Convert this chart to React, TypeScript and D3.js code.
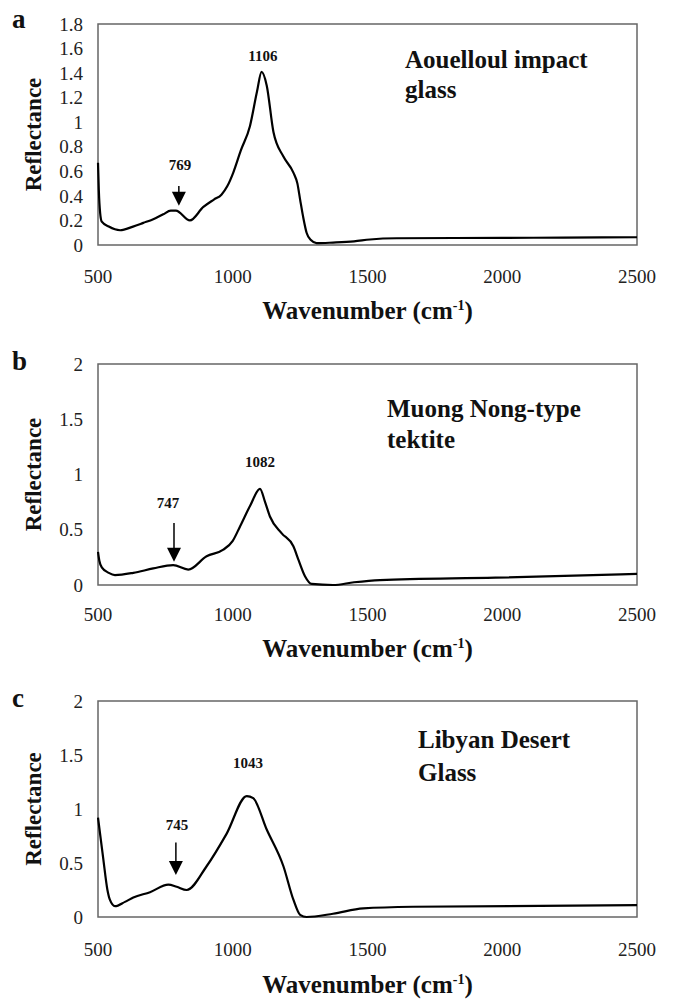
import React from "react";
import * as d3 from "d3";

// ---- Data ----
const wnA = [500, 503, 508, 514, 540, 582, 630, 668, 705, 742, 770, 789, 841, 891, 930, 958, 980, 1002, 1030, 1064, 1090, 1107, 1126, 1151, 1188, 1225, 1240, 1250, 1262, 1274, 1290, 1311, 1372, 1450, 1509, 1608, 2000, 2226, 2500];
const refA = [0.67, 0.45, 0.26, 0.19, 0.15, 0.12, 0.15, 0.18, 0.21, 0.25, 0.28, 0.28, 0.20, 0.31, 0.37, 0.41, 0.48, 0.59, 0.77, 0.97, 1.25, 1.41, 1.30, 0.92, 0.72, 0.59, 0.50, 0.37, 0.22, 0.10, 0.04, 0.015, 0.02, 0.03, 0.045, 0.055, 0.058, 0.06, 0.063];

const wnB = [500, 505, 514, 540, 563, 631, 705, 779, 835, 903, 965, 1000, 1027, 1065, 1101, 1120, 1138, 1181, 1225, 1245, 1268, 1293, 1372, 1450, 1546, 1975, 2500];
const refB = [0.30, 0.22, 0.16, 0.11, 0.09, 0.11, 0.15, 0.18, 0.14, 0.26, 0.32, 0.40, 0.53, 0.72, 0.87, 0.75, 0.62, 0.47, 0.35, 0.22, 0.08, 0.01, 0.0, 0.025, 0.045, 0.066, 0.10];

const wnC = [500, 519, 535, 544, 563, 600, 631, 693, 761, 792, 829, 903, 977, 1052, 1076, 1126, 1188, 1225, 1250, 1274, 1372, 1484, 1669, 2500];
const refC = [0.92, 0.55, 0.25, 0.16, 0.10, 0.14, 0.18, 0.23, 0.30, 0.28, 0.25, 0.47, 0.77, 1.12, 1.10, 0.81, 0.47, 0.16, 0.02, 0.0, 0.03, 0.08, 0.095, 0.11];

const xTicks = [500, 1000, 1500, 2000, 2500];
const yTicksA = [0, 0.2, 0.4, 0.6, 0.8, 1, 1.2, 1.4, 1.6, 1.8];
const yTicksBC = [0, 0.5, 1, 1.5, 2];

// peak labels: [text, wavenumber, reflectance at baseline]
const peaksA = [["1106", 1112, 1.5], ["769", 804, 0.61]];
const peaksB = [["1082", 1101, 1.07], ["747", 760, 0.7]];
const peaksC = [["1043", 1057, 1.38], ["745", 793, 0.81]];
// arrows: [wavenumber, top reflectance, tip reflectance]
const arrowA = [800, 0.48, 0.32];
const arrowB = [782, 0.56, 0.21];
const arrowC = [789, 0.69, 0.39];

const namesA = ["Aouelloul impact", "glass"];
const namesB = ["Muong Nong-type", "tektite"];
const namesC = ["Libyan Desert", "Glass"];

const SERIF = "'Liberation Serif', 'Times New Roman', serif";

type PanelProps = {
  letter: string;
  wn: number[];
  ref: number[];
  yMax: number;
  yTicks: number[];
  top: number;
  bottom: number;
  tickLabelY: number;
  xLabelY: number;
  letterY: number;
  peaks: any[];
  arrow: number[];
  names: string[];
  nameX: number;
  nameY: number;
  nameGap: number;
};

function Panel(p: PanelProps) {
  const left = 98;
  const right = 637;
  const x = d3.scaleLinear().domain([500, 2500]).range([left, right]);
  const y = d3.scaleLinear().domain([0, p.yMax]).range([p.bottom, p.top]);
  const pts = p.wn.map((w, i) => [w, p.ref[i]] as [number, number]);
  const line = d3
    .line<[number, number]>()
    .x((d) => x(d[0]))
    .y((d) => y(d[1]))
    .curve(d3.curveMonotoneX);
  const ax = x(p.arrow[0]);
  const aTop = y(p.arrow[1]);
  const aTip = y(p.arrow[2]);
  const headH = 14;
  const headW = 7;
  return (
    <g>
      <text x={12} y={p.letterY} fontFamily={SERIF} fontWeight="bold" fontSize={27} fill="#111">
        {p.letter}
      </text>
      <rect x={left} y={p.top} width={right - left} height={p.bottom - p.top} fill="none" stroke="#666" strokeWidth={1.5} />
      {p.yTicks.map((t) => (
        <text key={t} x={83} y={y(t)} dy="0.35em" textAnchor="end" fontFamily={SERIF} fontSize={19} fill="#222">
          {String(t)}
        </text>
      ))}
      {xTicks.map((t) => (
        <text key={t} x={x(t)} y={p.tickLabelY} textAnchor="middle" fontFamily={SERIF} fontSize={19} fill="#222">
          {String(t)}
        </text>
      ))}
      <text
        transform={`translate(41,${(p.top + p.bottom) / 2}) rotate(-90)`}
        textAnchor="middle"
        fontFamily={SERIF}
        fontWeight="bold"
        fontSize={23}
        fill="#111"
      >
        Reflectance
      </text>
      <text x={(left + right) / 2} y={p.xLabelY} textAnchor="middle" fontFamily={SERIF} fontWeight="bold" fontSize={25} fill="#111">
        Wavenumber (cm
        <tspan dy={-9} fontSize={14}>-1</tspan>
        <tspan dy={9}>)</tspan>
      </text>
      <path d={line(pts) || ""} fill="none" stroke="#000" strokeWidth={2.2} strokeLinejoin="round" />
      {p.peaks.map((pk: any) => (
        <text key={pk[0]} x={x(pk[1])} y={y(pk[2])} textAnchor="middle" fontFamily={SERIF} fontWeight="bold" fontSize={15} fill="#111">
          {pk[0]}
        </text>
      ))}
      <line x1={ax} x2={ax} y1={aTop} y2={aTip - headH + 2} stroke="#000" strokeWidth={1.5} />
      <path d={`M${ax - headW},${aTip - headH} L${ax + headW},${aTip - headH} L${ax},${aTip} Z`} fill="#000" />
      {p.names.map((n, i) => (
        <text key={n} x={p.nameX} y={p.nameY + i * p.nameGap} fontFamily={SERIF} fontWeight="bold" fontSize={25} fill="#111">
          {n}
        </text>
      ))}
    </g>
  );
}

export default function App() {
  return (
    <svg width={674} height={1000} style={{ position: "absolute", left: 0, top: 0, background: "#fff" }}>
      <rect width={674} height={1000} fill="#fff" />
      <Panel
        letter="a"
        wn={wnA}
        ref={refA}
        yMax={1.8}
        yTicks={yTicksA}
        top={24}
        bottom={245}
        tickLabelY={283}
        xLabelY={319}
        letterY={28}
        peaks={peaksA}
        arrow={arrowA}
        names={namesA}
        nameX={405}
        nameY={68}
        nameGap={30}
      />
      <Panel
        letter="b"
        wn={wnB}
        ref={refB}
        yMax={2}
        yTicks={yTicksBC}
        top={364}
        bottom={585}
        tickLabelY={621}
        xLabelY={657}
        letterY={370}
        peaks={peaksB}
        arrow={arrowB}
        names={namesB}
        nameX={387}
        nameY={417}
        nameGap={31}
      />
      <Panel
        letter="c"
        wn={wnC}
        ref={refC}
        yMax={2}
        yTicks={yTicksBC}
        top={701}
        bottom={917}
        tickLabelY={956}
        xLabelY={993}
        letterY={707}
        peaks={peaksC}
        arrow={arrowC}
        names={namesC}
        nameX={418}
        nameY={748}
        nameGap={33}
      />
    </svg>
  );
}
